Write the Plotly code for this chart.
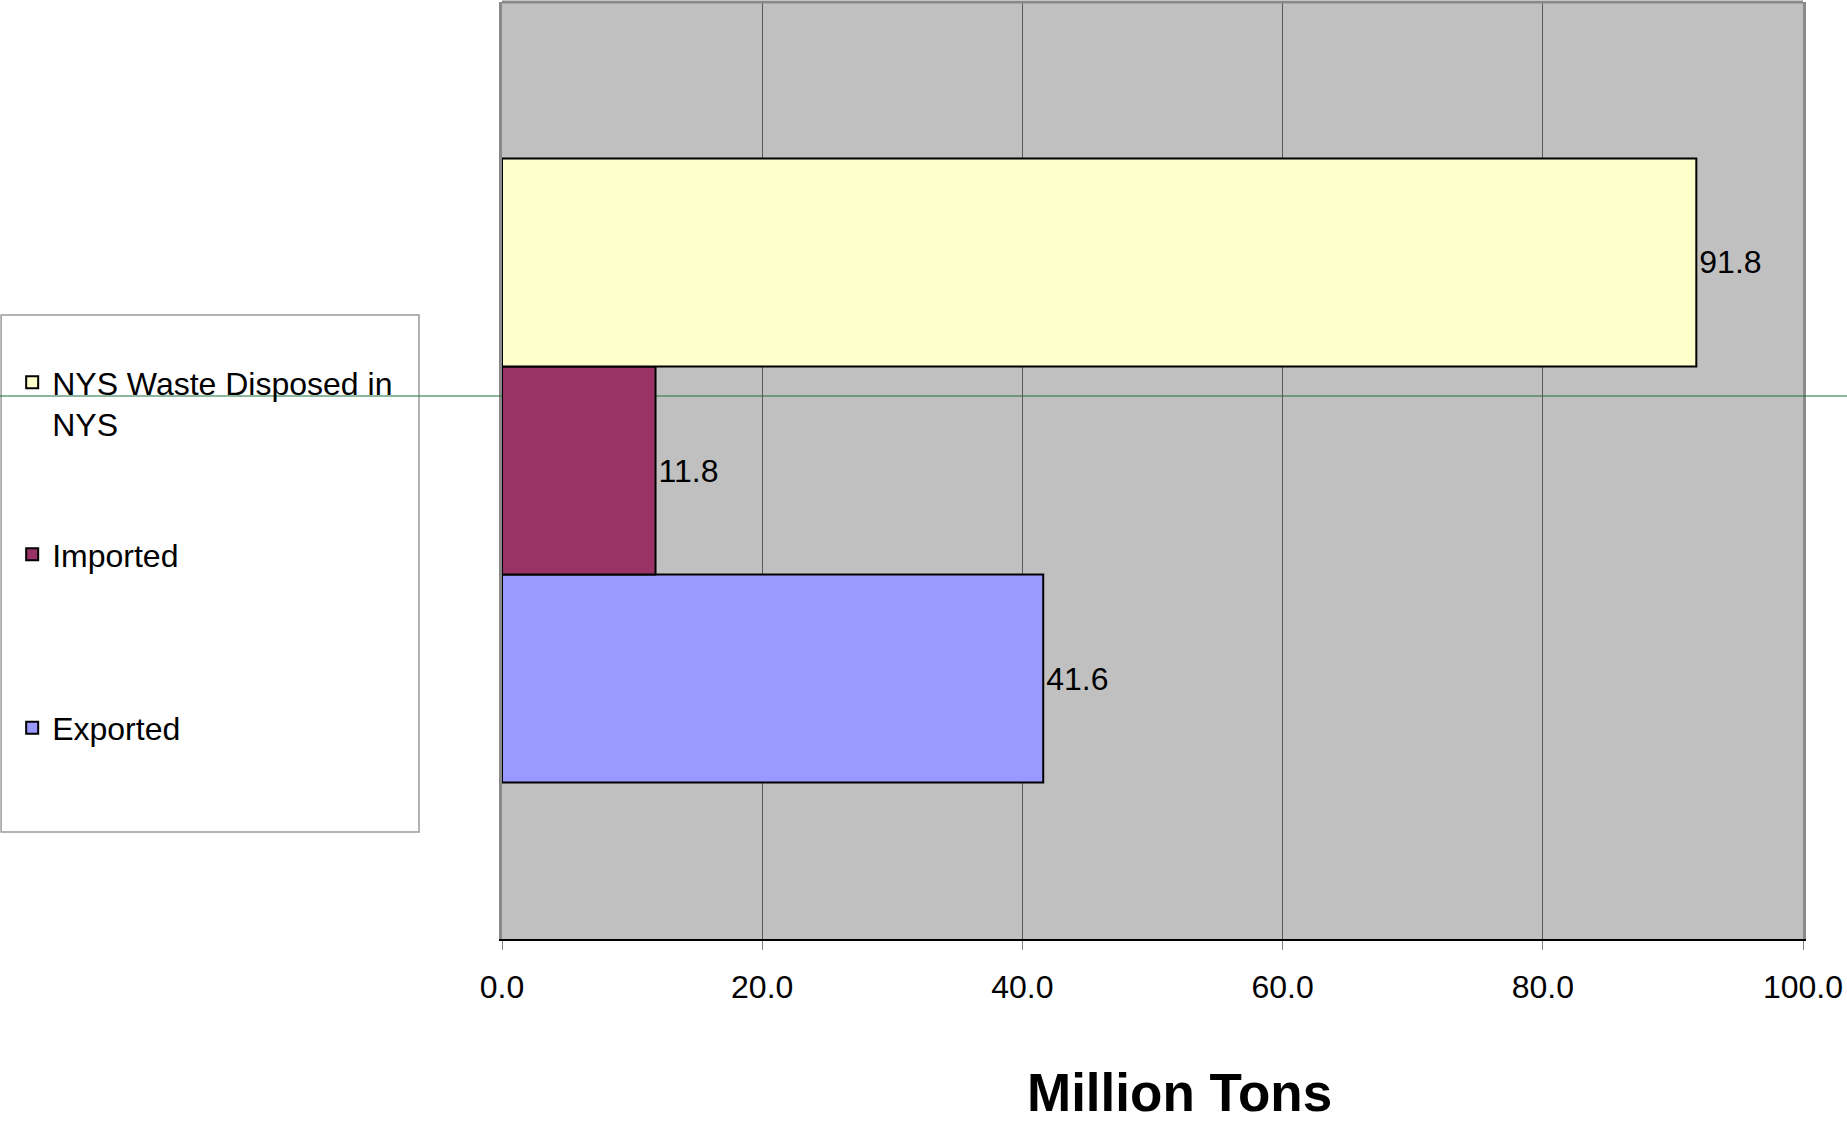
import plotly.graph_objects as go

# ---- data ----
categories = ["Waste flow"]
series_names = ["NYS Waste Disposed in<br>NYS", "Imported", "Exported"]
series_values = [91.8, 11.8, 41.6]
series_colors = ["#FFFFCC", "#993366", "#9999FF"]
tick_values = [0, 20, 40, 60, 80, 100]
tick_labels = ["0.0", "20.0", "40.0", "60.0", "80.0", "100.0"]
axis_title = "Million Tons"

FONT = "Liberation Sans, Arial, sans-serif"

fig = go.Figure()

legend_ids = ["legend", "legend2", "legend3"]
# plotted bottom-to-top: Exported, Imported, NYS
for idx in [2, 1, 0]:
    fig.add_trace(go.Bar(
        y=categories,
        x=[series_values[idx]],
        name=series_names[idx],
        orientation="h",
        marker=dict(color=series_colors[idx], line=dict(color="black", width=2)),
        texttemplate="%{x:.1f}",
        textposition="outside",
        textfont=dict(family=FONT, size=32, color="black"),
        cliponaxis=False,
        legend=legend_ids[idx],
        hoverinfo="skip",
    ))

legend_common = dict(
    font=dict(family=FONT, size=32, color="black"),
    bgcolor="rgba(0,0,0,0)",
    borderwidth=0,
    xanchor="left",
    yanchor="top",
    valign="top",
    x=-0.3765,
)

fig.update_layout(
    width=1847,
    height=1121,
    margin=dict(l=502, r=44, t=2, b=182, pad=0),
    paper_bgcolor="white",
    plot_bgcolor="#C0C0C0",
    barmode="group",
    bargap=0.334,
    bargroupgap=0,
    showlegend=True,
    legend=dict(**legend_common, y=0.6232),
    legend2=dict(**legend_common, y=0.4397),
    legend3=dict(**legend_common, y=0.2545),
    xaxis=dict(
        range=[0, 100],
        tickvals=tick_values,
        ticktext=tick_labels,
        ticks="outside",
        ticklen=9,
        tickwidth=1,
        tickcolor="#808080",
        tickfont=dict(family=FONT, size=32, color="black"),
        ticklabelstandoff=10,
        showgrid=True,
        gridcolor="#5a5a5a",
        gridwidth=1,
        zeroline=False,
        showline=True,
        linecolor="black",
        linewidth=2,
        layer="below traces",
        fixedrange=True,
    ),
    yaxis=dict(
        type="category",
        showticklabels=False,
        ticks="",
        showgrid=False,
        zeroline=False,
        showline=True,
        linecolor="#8a8a8a",
        linewidth=3,
        mirror=True,
        layer="below traces",
        fixedrange=True,
    ),
    annotations=[dict(
        text="<b>" + axis_title + "</b>",
        xref="paper", yref="paper",
        x=0.5204, y=-0.1302,
        xanchor="center", yanchor="top",
        showarrow=False,
        font=dict(family=FONT, size=53, color="black"),
    )],
    shapes=[
        # top border of plot area
        dict(type="line", xref="paper", yref="paper", x0=0, x1=1, y0=1, y1=1,
             line=dict(color="#8a8a8a", width=3), layer="above"),
        # legend frame
        dict(type="rect", xref="paper", yref="paper",
             x0=-0.385, x1=-0.0638, y0=0.1142, y1=0.666,
             line=dict(color="#9a9a9a", width=1.5), fillcolor="rgba(0,0,0,0)", layer="below"),
        # stray green rule: inside plot (under bars)
        dict(type="line", xref="x", yref="y", x0=0, x1=100, y0=0.0795, y1=0.0795,
             line=dict(color="#1f6e40", width=1), layer="below"),
        # stray green rule: outside plot, left and right
        dict(type="line", xref="paper", yref="y", x0=-0.3859, x1=0, y0=0.0795, y1=0.0795,
             line=dict(color="#1f6e40", width=1), layer="above"),
        dict(type="line", xref="paper", yref="y", x0=1, x1=1.0338, y0=0.0795, y1=0.0795,
             line=dict(color="#1f6e40", width=1), layer="above"),
    ],
)

fig.write_html(
    "out.html",
    config={"displayModeBar": False},
    post_script="document.body.style.margin='0';document.body.style.overflow='hidden';",
)
